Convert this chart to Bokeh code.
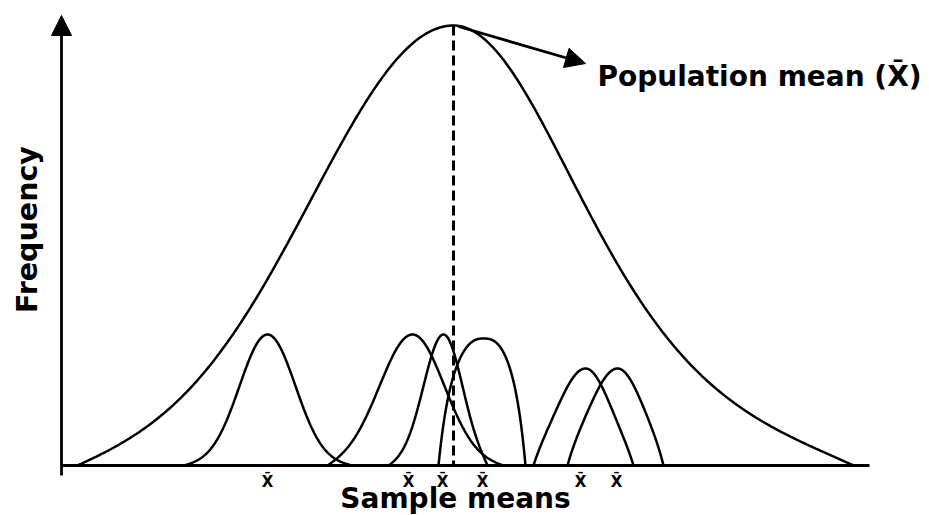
import numpy as np
from bokeh.plotting import figure
from bokeh.models import Range1d, Arrow, NormalHead
from bokeh.core.properties import value
from bokeh.embed import file_html
from bokeh.resources import INLINE

# ---- data (x in chart units, y = frequency) ----
pop_center = 453
pop_height = 440
pop_left_end = 77
pop_right_end = 853
pop_left_spread = 142      # gaussian sigma on the left
pop_right_spread = 87      # logistic scale on the right (heavier tail)

sample_centers = [267, 412, 443, 483, 585, 617]
sample_heights = [131, 131, 131, 127, 97, 97]
sample_left_spread = [28, 33, 20, 37, 28, 28]
sample_right_spread = [28, 32, 19, 35, 25.5, 26]
sample_left_power = [2, 2, 2, 2.5, 2, 2]
sample_right_power = [2, 2, 2, 2.7, 2, 2]
sample_left_end = [183, 327, 388, 438, 533, 567]
sample_right_end = [352, 503, 487, 525, 633, 663]

mean_label_x = [267, 408, 442, 482, 580, 616]
mean_label_text = ["X\u0304"] * 6

axis_x_start = 61
axis_x_end = 869
axis_y_top = 450

title_text = "Population mean (X\u0304)"
x_title = "Sample means"
y_title = "Frequency"


def shape(d, spread, power, kind):
    d = np.abs(d)
    if kind == "logistic":
        return 1.0 / np.cosh(d / (2.0 * spread)) ** 2
    return np.exp(-0.5 * (d / spread) ** power)


def bell(c, h, x0, x1, sl, sr, pl=2, pr=2, kl="gauss", kr="gauss"):
    xl = np.linspace(x0, c, 160)
    dl = c - xl
    fe = shape(c - x0, sl, pl, kl)
    fl = shape(dl, sl, pl, kl) - fe * (dl / (c - x0)) ** 6
    xr = np.linspace(c, x1, 160)
    dr = xr - c
    fe = shape(x1 - c, sr, pr, kr)
    fr = shape(dr, sr, pr, kr) - fe * (dr / (x1 - c)) ** 6
    return np.concatenate([xl, xr[1:]]), h * np.concatenate([fl, fr[1:]])


p = figure(width=929, height=515, x_range=Range1d(0, 929), y_range=Range1d(-50, 465),
           output_backend="svg", toolbar_location=None,
           x_axis_location=None, y_axis_location=None, min_border=0)
p.grid.visible = False
p.outline_line_color = None
p.background_fill_color = "white"

# population curve
bx, by = bell(pop_center, pop_height, pop_left_end, pop_right_end,
              pop_left_spread, pop_right_spread, kl="gauss", kr="logistic")
p.line(bx, by, line_color="black", line_width=2.5)

# sample curves
for i in range(len(sample_centers)):
    sx, sy = bell(sample_centers[i], sample_heights[i], sample_left_end[i], sample_right_end[i],
                  sample_left_spread[i], sample_right_spread[i],
                  sample_left_power[i], sample_right_power[i])
    p.line(sx, sy, line_color="black", line_width=2.5)

# x axis
p.segment(x0=[axis_x_start], y0=[0], x1=[axis_x_end], y1=[0], line_color="black", line_width=2.8)
# y axis with arrow
p.add_layout(Arrow(end=NormalHead(size=20, fill_color="black", line_color="black"),
                   x_start=axis_x_start, y_start=-10, x_end=axis_x_start, y_end=axis_y_top,
                   line_color="black", line_width=2.8))

# dashed mean line
p.segment(x0=[pop_center], y0=[pop_height], x1=[pop_center], y1=[0],
          line_color="black", line_width=3, line_dash="10 5")

# pointer arrow to label
p.add_layout(Arrow(end=NormalHead(size=20, fill_color="black", line_color="black"),
                   x_start=pop_center + 5, y_start=pop_height - 1, x_end=585, y_end=402,
                   line_color="black", line_width=2.8))

p.text(x=[597], y=[389], text=[title_text], text_font=value("DejaVu Sans"),
       text_font_style="bold", text_font_size="28px", text_align="left",
       text_baseline="alphabetic", text_color="black")

p.text(x=[455], y=[-33], text=[x_title], text_font=value("DejaVu Sans"),
       text_font_style="bold", text_font_size="28px", text_align="center",
       text_baseline="alphabetic", text_color="black")

p.text(x=[27], y=[236], text=[y_title], text_font=value("DejaVu Sans"),
       text_font_style="bold", text_font_size="28.5px", text_align="center",
       text_baseline="middle", angle=np.pi / 2, text_color="black")

p.text(x=mean_label_x, y=[-16] * len(mean_label_x), text=mean_label_text,
       text_font=value("DejaVu Sans"), text_font_size="15px", text_font_style="bold",
       text_align="center", text_baseline="alphabetic", text_color="black")

open("out.html", "w").write(file_html(p, INLINE))
